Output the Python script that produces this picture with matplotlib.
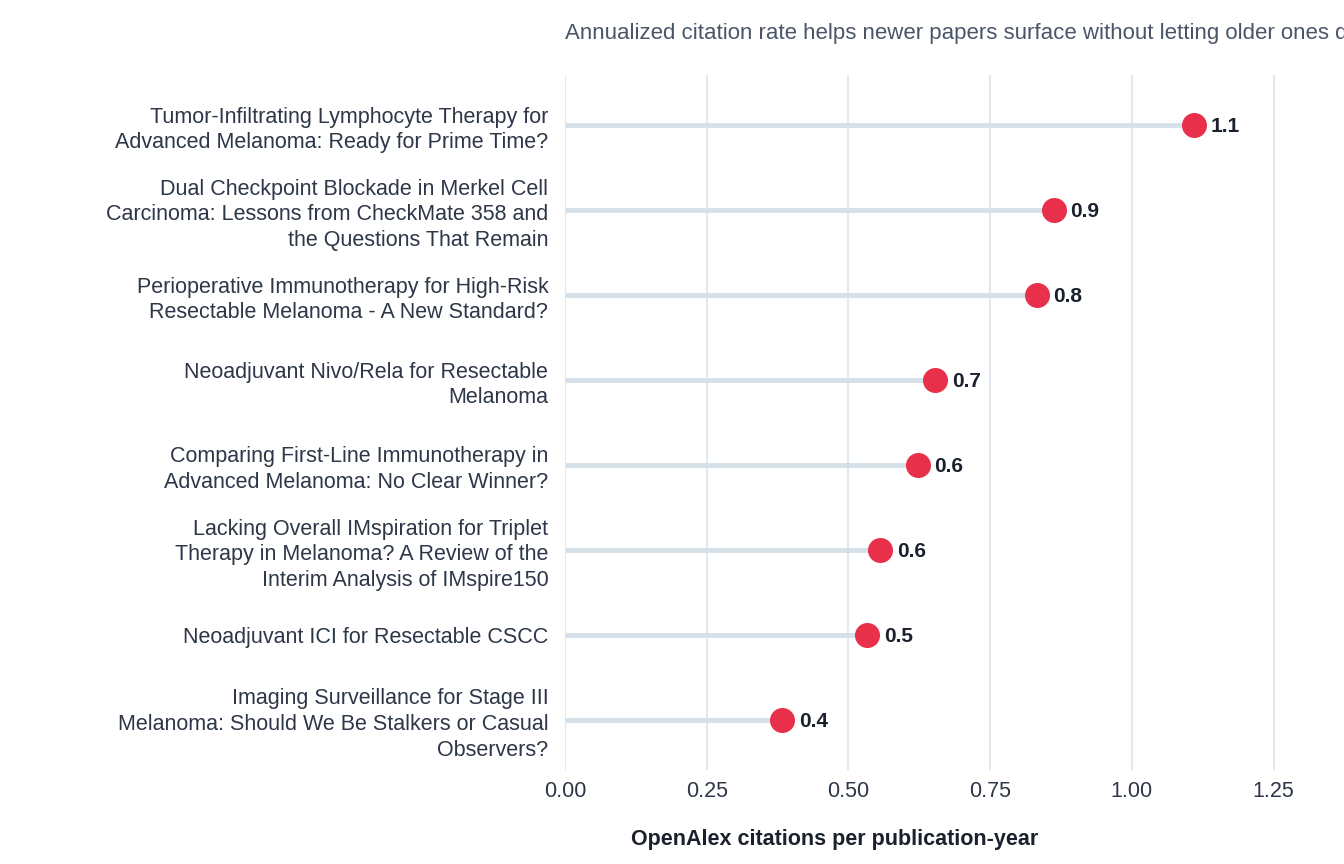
import matplotlib
matplotlib.use("Agg")
import matplotlib.pyplot as plt

plt.rcParams['font.family'] = ['Liberation Sans', 'DejaVu Sans']

titles = [
    "Tumor-Infiltrating Lymphocyte Therapy for\nAdvanced Melanoma: Ready for Prime Time?",
    "Dual Checkpoint Blockade in Merkel Cell\nCarcinoma: Lessons from CheckMate 358 and\nthe Questions That Remain",
    "Perioperative Immunotherapy for High-Risk\nResectable Melanoma - A New Standard?",
    "Neoadjuvant Nivo/Rela for Resectable\nMelanoma",
    "Comparing First-Line Immunotherapy in\nAdvanced Melanoma: No Clear Winner?",
    "Lacking Overall IMspiration for Triplet\nTherapy in Melanoma? A Review of the\nInterim Analysis of IMspire150",
    "Neoadjuvant ICI for Resectable CSCC",
    "Imaging Surveillance for Stage III\nMelanoma: Should We Be Stalkers or Casual\nObservers?",
]
rates = [1.11, 0.862, 0.832, 0.653, 0.622, 0.556, 0.533, 0.383]
xticks = [0.0, 0.25, 0.5, 0.75, 1.0, 1.25]

fig = plt.figure(figsize=(13.44, 8.64), dpi=100)
ax = fig.add_axes([565 / 1344, 94 / 864, 737 / 1344, 695 / 864])

ypos = list(range(len(titles)))[::-1]
for y, v in zip(ypos, rates):
    ax.plot([0, v], [y, y], color="#d5e0e8", lw=3.5, solid_capstyle="butt", zorder=2)
    ax.plot(v, y, "o", color="#e8304a", markersize=17, zorder=3)
    ax.annotate(f"{v:.1f}", (v, y), xytext=(12, -1), textcoords="offset points",
                va="center", ha="left", fontsize=15, fontweight="bold", color="#1a202c")

ax.set_xlim(0, 1.3)
ax.set_ylim(-0.59, 7.59)
ax.set_xticks(xticks)
ax.set_xticklabels([f"{t:.2f}" for t in xticks], fontsize=15.5, color="#2d3748")
ax.set_yticks(ypos)
ax.set_yticklabels(titles, fontsize=15.5, color="#2d3748", linespacing=1.3)
ax.tick_params(length=0, pad=12)
ax.tick_params(axis="x", pad=8)
ax.grid(axis="x", color="#e2e8f0", lw=1.5, zorder=0)
ax.set_axisbelow(True)
for s in ax.spines.values():
    s.set_visible(False)
ax.set_xlabel("OpenAlex citations per publication-year", fontsize=15.5,
              fontweight="bold", color="#1a202c")
ax.xaxis.set_label_coords((835 - 565) / 737, -0.085)
fig.text(565 / 1344, 1 - 33 / 864,
         "Annualized citation rate helps newer papers surface without letting older ones dominate",
         fontsize=16, color="#4a5568", va="center", ha="left")

fig.savefig("out.png", dpi=100)
